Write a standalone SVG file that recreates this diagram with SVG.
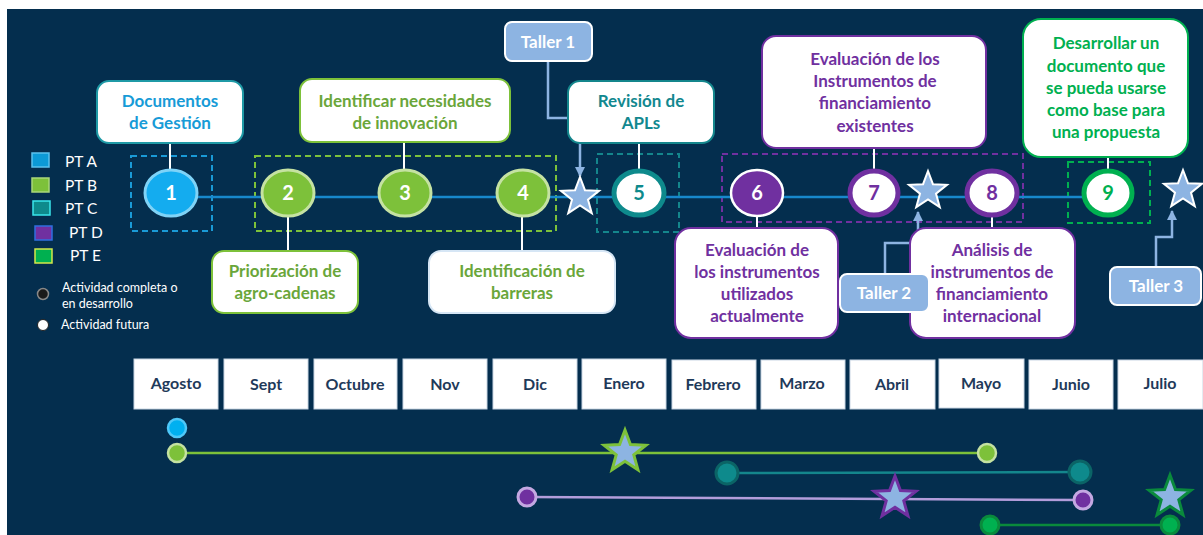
<svg xmlns="http://www.w3.org/2000/svg" xmlns:xlink="http://www.w3.org/1999/xlink" width="1203" height="535" viewBox="0 0 1203 535">
<defs>
<style>
.t{font-family:Lato,"Open Sans","Liberation Sans",sans-serif;font-weight:bold;font-size:17px;text-anchor:middle}
.lg{font-family:Lato,"Open Sans","Liberation Sans",sans-serif;font-size:15.5px;fill:#ffffff}
.sm{font-family:Lato,"Open Sans","Liberation Sans",sans-serif;font-size:12.5px;fill:#ffffff}
.num{font-family:Lato,"Open Sans","Liberation Sans",sans-serif;font-weight:bold;font-size:20px;text-anchor:middle}
.box{fill:#ffffff;stroke-width:2}
.taller{fill:#8db4e2;stroke:#ffffff;stroke-width:2}
.conn{stroke:#ffffff;stroke-width:2;fill:none}
.tconn{stroke:#8db4e2;stroke-width:2.5;fill:none}
.dash{fill:none;stroke-width:2;stroke-dasharray:6 4}
.month{fill:#ffffff;stroke:#c9d6e3;stroke-width:1}
.mt{font-family:Lato,"Open Sans","Liberation Sans",sans-serif;font-weight:bold;font-size:16px;text-anchor:middle;fill:#1f3a5a}
</style>
<path id="star" d="M0,-20 L4.94,-6.80 L19.02,-6.18 L7.99,2.60 L11.76,16.18 L0,8.4 L-11.76,16.18 L-7.99,2.60 L-19.02,-6.18 L-4.94,-6.80 Z"/>
<path id="starL" d="M0,-22 L5.43,-7.48 L20.92,-6.80 L8.79,2.86 L12.94,17.80 L0,9.24 L-12.94,17.80 L-8.79,2.86 L-20.92,-6.80 L-5.43,-7.48 Z"/>
<marker id="arr" viewBox="0 0 10 10" refX="9" refY="5" markerWidth="4" markerHeight="4" orient="auto" markerUnits="strokeWidth">
<path d="M0,0 L10,5 L0,10 Z" fill="#8db4e2"/>
</marker>
</defs>

<rect x="0" y="0" width="1203" height="535" fill="#ffffff"/>
<rect x="7" y="9" width="1196" height="526" fill="#042e4e"/>

<!-- legend -->
<g id="legend">
<rect x="32" y="153" width="17" height="14" fill="#0c9ad6" stroke="#5bc2ee" stroke-width="1.5"/>
<text class="lg" x="65" y="167">PT A</text>
<rect x="32" y="178" width="17" height="14" fill="#7dc13a" stroke="#a9d77a" stroke-width="1.5"/>
<text class="lg" x="65" y="191">PT B</text>
<rect x="33" y="201" width="17" height="14" fill="#0e8a8c" stroke="#3ae6ec" stroke-width="1.5"/>
<text class="lg" x="65" y="214">PT C</text>
<rect x="35" y="226" width="17" height="14" fill="#7030a0" stroke="#2f6fe0" stroke-width="1.5"/>
<text class="lg" x="69" y="238">PT D</text>
<rect x="35" y="249" width="17" height="14" fill="#00b050" stroke="#d4e84a" stroke-width="1.5"/>
<text class="lg" x="70" y="261">PT E</text>
<circle cx="43" cy="294" r="5.5" fill="#1a1a1a" stroke="#888888" stroke-width="1.5"/>
<text class="sm" x="62" y="292">Actividad completa o</text>
<text class="sm" x="62" y="308">en desarrollo</text>
<circle cx="43" cy="325" r="5.5" fill="#ffffff" stroke="#222222" stroke-width="1"/>
<text class="sm" x="61" y="329">Actividad futura</text>
</g>

<!-- dashed PT groups -->
<g id="groups">
<rect class="dash" x="131" y="156" width="81" height="75" stroke="#1a9ad6"/>
<rect class="dash" x="255" y="156" width="301" height="75" stroke="#7dc13a"/>
<rect class="dash" x="597" y="154" width="82" height="78" stroke="#14868c"/>
<rect class="dash" x="722" y="154" width="301" height="68" stroke="#7030a0"/>
<rect class="dash" x="1068" y="162" width="82" height="61" stroke="#00b050"/>
</g>

<!-- connectors -->
<g id="connectors">
<line x1="170" y1="197" x2="1108" y2="197" stroke="#1788cc" stroke-width="2.5"/>
<line class="conn" x1="170" y1="143" x2="170" y2="169"/>
<line class="conn" x1="404" y1="142" x2="404" y2="170"/>
<line class="conn" x1="288" y1="217" x2="288" y2="251"/>
<line class="conn" x1="522" y1="217" x2="522" y2="251"/>
<line class="conn" x1="639" y1="143" x2="639" y2="169"/>
<line class="conn" x1="874" y1="148" x2="874" y2="169"/>
<line class="conn" x1="757" y1="217" x2="757" y2="228"/>
<line class="conn" x1="992" y1="217" x2="992" y2="228"/>
<line class="conn" x1="1108" y1="157" x2="1108" y2="169"/>
<polyline class="tconn" points="548,61 548,118 580,118 580,176" marker-end="url(#arr)"/>
<polyline class="tconn" points="885,274 885,243 918,243 918,212" marker-end="url(#arr)"/>
<polyline class="tconn" points="1156,267 1156,237 1172,237 1172,211" marker-end="url(#arr)"/>
</g>

<!-- timeline nodes -->
<g id="n1"><ellipse cx="171" cy="193" rx="26" ry="23" fill="#14acef" stroke="#7fd3f7" stroke-width="3"/><text class="num" x="171" y="200" fill="#ffffff">1</text></g>
<g id="n2"><ellipse cx="288" cy="193" rx="26" ry="23" fill="#7dc13a" stroke="#c5e2a2" stroke-width="3"/><text class="num" x="288" y="200" fill="#ffffff">2</text></g>
<g id="n3"><ellipse cx="405" cy="193" rx="26" ry="23" fill="#7dc13a" stroke="#c5e2a2" stroke-width="3"/><text class="num" x="405" y="200" fill="#ffffff">3</text></g>
<g id="n4"><ellipse cx="523" cy="193" rx="26" ry="23" fill="#7dc13a" stroke="#c5e2a2" stroke-width="3"/><text class="num" x="523" y="200" fill="#ffffff">4</text></g>
<g id="star1"><use xlink:href="#star" href="#star" x="580" y="197" fill="#8db4e2" stroke="#ffffff" stroke-width="2"/></g>
<g id="n5"><ellipse cx="639" cy="193" rx="25" ry="22" fill="#ffffff" stroke="#0e8a8c" stroke-width="5"/><text class="num" x="639" y="200" fill="#0e8a8c">5</text></g>
<g id="n6"><ellipse cx="757" cy="193" rx="26" ry="23" fill="#7030a0" stroke="#ffffff" stroke-width="2.5"/><text class="num" x="757" y="200" fill="#ffffff">6</text></g>
<g id="n7"><ellipse cx="874" cy="193" rx="24" ry="22" fill="#ffffff" stroke="#7030a0" stroke-width="5"/><text class="num" x="874" y="200" fill="#7030a0">7</text></g>
<g id="star2"><use xlink:href="#star" href="#star" x="928" y="191" fill="#8db4e2" stroke="#ffffff" stroke-width="2"/></g>
<g id="n8"><ellipse cx="992" cy="193" rx="25" ry="22" fill="#ffffff" stroke="#7030a0" stroke-width="5"/><text class="num" x="992" y="200" fill="#7030a0">8</text></g>
<g id="n9"><ellipse cx="1108" cy="193" rx="24" ry="22" fill="#ffffff" stroke="#00b050" stroke-width="5"/><text class="num" x="1108" y="200" fill="#00b050">9</text></g>
<g id="star3"><use xlink:href="#star" href="#star" x="1183" y="190" fill="#8db4e2" stroke="#ffffff" stroke-width="2"/></g>

<!-- callouts -->
<g id="c1"><rect class="box" x="97" y="81" width="146" height="62" rx="12" stroke="#1f9aa6"/>
<text class="t" fill="#179bd7"><tspan x="170" y="107">Documentos</tspan><tspan x="170" y="129">de Gestión</tspan></text></g>
<g id="c3"><rect class="box" x="300" y="79" width="210" height="63" rx="12" stroke="#7dc13a"/>
<text class="t" fill="#6aa63a"><tspan x="405" y="107">Identificar necesidades</tspan><tspan x="405" y="129">de innovación</tspan></text></g>
<g id="c2"><rect class="box" x="212" y="251" width="146" height="62" rx="12" stroke="#7dc13a"/>
<text class="t" fill="#6aa63a"><tspan x="285" y="277">Priorización de</tspan><tspan x="285" y="299">agro-cadenas</tspan></text></g>
<g id="c4"><rect class="box" x="429" y="251" width="186" height="62" rx="12" stroke="#d6e6f5"/>
<text class="t" fill="#6aa63a"><tspan x="522" y="277">Identificación de</tspan><tspan x="522" y="299">barreras</tspan></text></g>
<g id="t1"><rect class="taller" x="505" y="22" width="87" height="39" rx="7"/>
<text class="t" fill="#ffffff" x="548" y="48">Taller 1</text></g>
<g id="c5"><rect class="box" x="568" y="81" width="146" height="62" rx="12" stroke="#14868c"/>
<text class="t" fill="#12888f"><tspan x="641" y="107">Revisión de</tspan><tspan x="641" y="129">APLs</tspan></text></g>
<g id="c7"><rect class="box" x="762" y="36" width="224" height="112" rx="14" stroke="#7030a0"/>
<text class="t" fill="#7030a0"><tspan x="875" y="65">Evaluación de los</tspan><tspan x="875" y="87">Instrumentos de</tspan><tspan x="875" y="109">financiamiento</tspan><tspan x="875" y="132">existentes</tspan></text></g>
<g id="c9"><rect class="box" x="1023" y="19" width="165" height="138" rx="18" stroke="#00b050"/>
<text class="t" fill="#00b050"><tspan x="1106" y="49">Desarrollar un</tspan><tspan x="1106" y="72">documento que</tspan><tspan x="1106" y="94">se pueda usarse</tspan><tspan x="1106" y="116">como base para</tspan><tspan x="1106" y="138">una propuesta</tspan></text></g>
<g id="c6"><rect class="box" x="675" y="228" width="163" height="110" rx="16" stroke="#7030a0"/>
<text class="t" fill="#7030a0"><tspan x="757" y="256">Evaluación de</tspan><tspan x="757" y="278">los instrumentos</tspan><tspan x="757" y="300">utilizados</tspan><tspan x="757" y="322">actualmente</tspan></text></g>
<g id="c8"><rect class="box" x="910" y="228" width="165" height="110" rx="16" stroke="#7030a0"/>
<text class="t" fill="#7030a0"><tspan x="992" y="256">Análisis de</tspan><tspan x="992" y="278">instrumentos de</tspan><tspan x="992" y="300">financiamiento</tspan><tspan x="992" y="322">internacional</tspan></text></g>
<g id="t2"><rect class="taller" x="840" y="274" width="89" height="38" rx="7"/>
<text class="t" fill="#ffffff" x="884" y="299">Taller 2</text></g>
<g id="t3"><rect class="taller" x="1110" y="267" width="91" height="38" rx="7"/>
<text class="t" fill="#ffffff" x="1156" y="292">Taller 3</text></g>

<!-- months -->
<g id="months">
<rect class="month" x="134" y="359" width="84" height="50"/><text class="mt" x="176" y="389">Agosto</text>
<rect class="month" x="224" y="359" width="84" height="50"/><text class="mt" x="266" y="390">Sept</text>
<rect class="month" x="314" y="359" width="83" height="50"/><text class="mt" x="355" y="390">Octubre</text>
<rect class="month" x="403" y="359" width="84" height="50"/><text class="mt" x="445" y="390">Nov</text>
<rect class="month" x="493" y="359" width="84" height="50"/><text class="mt" x="535" y="390">Dic</text>
<rect class="month" x="582" y="359" width="84" height="50"/><text class="mt" x="624" y="389">Enero</text>
<rect class="month" x="672" y="360" width="84" height="49"/><text class="mt" x="713" y="390">Febrero</text>
<rect class="month" x="761" y="360" width="84" height="49"/><text class="mt" x="802" y="389">Marzo</text>
<rect class="month" x="850" y="360" width="85" height="49"/><text class="mt" x="892" y="390">Abril</text>
<rect class="month" x="939" y="359" width="85" height="49"/><text class="mt" x="981" y="389">Mayo</text>
<rect class="month" x="1029" y="360" width="84" height="49"/><text class="mt" x="1071" y="390">Junio</text>
<rect class="month" x="1118" y="360" width="85" height="49"/><text class="mt" x="1160" y="389">Julio</text>
</g>

<!-- bottom timeline -->
<g id="schedule">
<circle cx="177" cy="428" r="9" fill="#00b0f0" stroke="#4fc8f8" stroke-width="2.5"/>
<line x1="177" y1="453" x2="987" y2="453" stroke="#7dc13a" stroke-width="2.5"/>
<circle cx="177" cy="453" r="9" fill="#7dc13a" stroke="#c5e2a2" stroke-width="2.5"/>
<circle cx="987" cy="453" r="9" fill="#7dc13a" stroke="#c5e2a2" stroke-width="2.5"/>
<use xlink:href="#starL" href="#starL" x="625" y="452" fill="#8db4e2" stroke="#7dc13a" stroke-width="3"/>
<line x1="727" y1="473" x2="1080" y2="472" stroke="#14868c" stroke-width="2.5"/>
<circle cx="727" cy="473" r="11" fill="#0e8a8c" stroke="#0b6466" stroke-width="3"/>
<circle cx="1080" cy="472" r="11" fill="#0e8a8c" stroke="#0b6466" stroke-width="3"/>
<line x1="527" y1="497" x2="1083" y2="500" stroke="#b39ddb" stroke-width="2.5"/>
<circle cx="527" cy="497" r="9" fill="#7030a0" stroke="#c4a8e2" stroke-width="3"/>
<circle cx="1083" cy="500" r="9" fill="#7030a0" stroke="#c4a8e2" stroke-width="3"/>
<use xlink:href="#starL" href="#starL" x="895" y="498" fill="#8db4e2" stroke="#7030a0" stroke-width="3"/>
<line x1="990" y1="525" x2="1170" y2="525" stroke="#0a8a3c" stroke-width="2.5"/>
<circle cx="990" cy="525" r="9" fill="#00b050" stroke="#0a8a3c" stroke-width="3"/>
<circle cx="1170" cy="525" r="9" fill="#00b050" stroke="#0a8a3c" stroke-width="3"/>
<use xlink:href="#starL" href="#starL" x="1170" y="497" fill="#8db4e2" stroke="#0a8a3c" stroke-width="3"/>
</g>
</svg>
